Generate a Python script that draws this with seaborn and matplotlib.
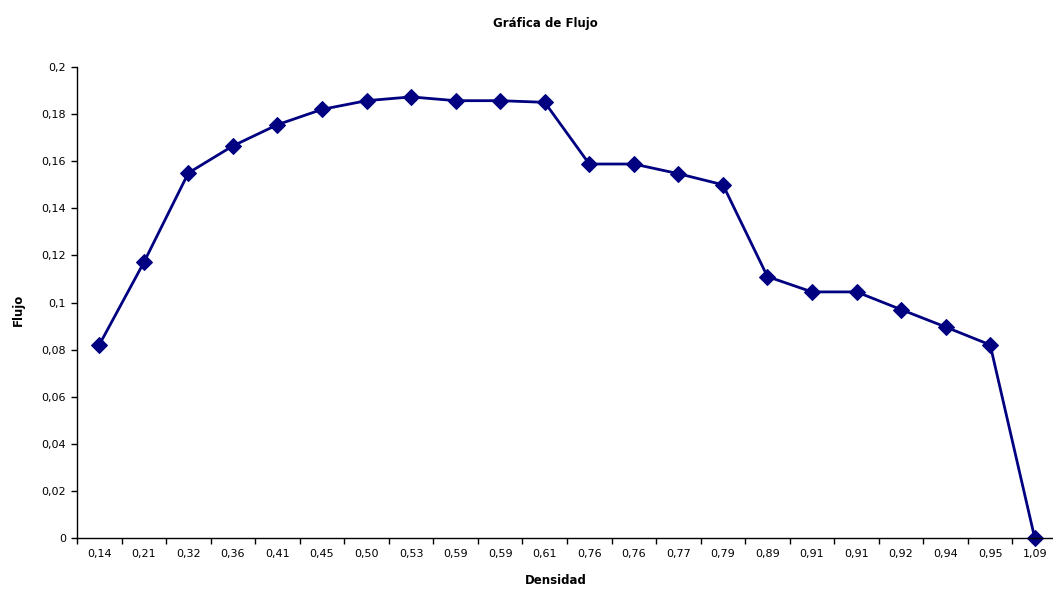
import numpy as np
import matplotlib
matplotlib.use("Agg")
import matplotlib.pyplot as plt
import seaborn as sns

# Density categories (x axis) and measured flow values
densidad = ["0,14", "0,21", "0,32", "0,36", "0,41", "0,45", "0,50", "0,53", "0,59", "0,59", "0,61",
            "0,76", "0,76", "0,77", "0,79", "0,89", "0,91", "0,91", "0,92", "0,94", "0,95", "1,09"]
flujo = [0.082, 0.117, 0.155, 0.1665, 0.1755, 0.182, 0.1857, 0.1873, 0.1857, 0.1857, 0.185,
         0.1588, 0.1588, 0.1547, 0.150, 0.111, 0.1045, 0.1045, 0.097, 0.0896, 0.082, 0.0]
y_ticks = [0, 0.02, 0.04, 0.06, 0.08, 0.10, 0.12, 0.14, 0.16, 0.18, 0.20]
y_labels = ["0", "0,02", "0,04", "0,06", "0,08", "0,1", "0,12", "0,14", "0,16", "0,18", "0,2"]

sns.set_style("white")
plt.rcParams["font.family"] = ["DejaVu Sans"]
plt.rcParams["text.color"] = "black"
plt.rcParams["axes.labelcolor"] = "black"
plt.rcParams["xtick.color"] = "black"
plt.rcParams["ytick.color"] = "black"

W, H = 1053, 591
fig = plt.figure(figsize=(W / 100, H / 100), dpi=100)
fig.patch.set_facecolor("white")
ax = fig.add_axes([77 / W, 1 - 538 / H, (1057 - 77) / W, (538 - 67) / H])

pos = np.arange(len(densidad))
sns.lineplot(x=pos, y=flujo, ax=ax, color="#000080", linewidth=2,
             marker="D", markersize=8, markeredgecolor="#000080",
             markerfacecolor="#000080", clip_on=False)

ax.set_xlim(-0.5, len(densidad) - 0.5)
ax.set_ylim(0, 0.2)
ax.set_yticks(y_ticks)
ax.set_yticklabels(y_labels)
ax.set_xticks(pos)
ax.set_xticklabels(densidad)
# category tick marks sit between categories
ax.set_xticks(np.arange(len(densidad) + 1) - 0.5, minor=True)
ax.tick_params(axis="x", which="major", length=0, pad=8, labelsize=8)
ax.tick_params(axis="x", which="minor", length=4, width=1, color="black", direction="out")
ax.tick_params(axis="y", length=4, width=1, color="black", direction="out", labelsize=8, pad=4)
ax.xaxis.set_ticks_position("bottom")
ax.yaxis.set_ticks_position("left")

for s in ["top", "right"]:
    ax.spines[s].set_visible(False)
for s in ["left", "bottom"]:
    ax.spines[s].set_color("black")
    ax.spines[s].set_linewidth(1)

ax.grid(False)
ax.set_xlabel("Densidad", fontsize=8.5, fontweight="bold")
ax.set_ylabel("Flujo", fontsize=8.5, fontweight="bold")
ax.xaxis.set_label_coords((556 - 77) / (1057 - 77), -(574 - 538) / (538 - 67))
ax.yaxis.set_label_coords(-(77 - 25) / (1057 - 77), (538 - 310) / (538 - 67))
fig.text(545 / W, 1 - 23 / H, "Gráfica de Flujo", ha="center", va="center",
         fontsize=8.5, fontweight="bold")

fig.savefig("out.png", dpi=100, facecolor="white")
